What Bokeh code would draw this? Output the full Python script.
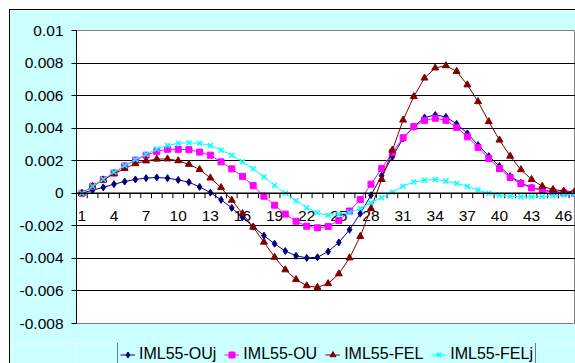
from bokeh.plotting import figure
from bokeh.models import ColumnDataSource, FixedTicker, CustomJSTickFormatter, Span, Range1d, Spacer
from bokeh.layouts import column, row
from bokeh.core.properties import value
from bokeh.embed import file_html
from bokeh.resources import INLINE

# ---- data ----
categories = list(range(1, 48))
x_tick_labels = ["1", "4", "7", "10", "13", "16", "19", "22", "25", "28", "31", "34", "37", "40", "43", "46"]
y_ticks = [-0.008, -0.006, -0.004, -0.002, 0.0, 0.002, 0.004, 0.006, 0.008, 0.01]

series_names = ["IML55-OUj", "IML55-OU", "IML55-FEL", "IML55-FELj"]

ouj = [0, 0.00019, 0.00036, 0.00056, 0.00072, 0.00085, 0.00093, 0.00097, 0.00093, 0.00082,
       0.00068, 0.00039, 0.00004, -0.00040, -0.00090, -0.00147, -0.00205, -0.00260, -0.00310, -0.00355,
       -0.00384, -0.00397, -0.00393, -0.00358, -0.00302, -0.00224, -0.00125, -0.00012, 0.00108, 0.00224,
       0.00337, 0.00409, 0.00465, 0.00481, 0.00469, 0.00426, 0.00368, 0.00296, 0.00228, 0.00167,
       0.00105, 0.00064, 0.00035, 0.00019, 0.00010, 0.00006, 0.00004]

ou = [0, 0.00043, 0.00085, 0.00125, 0.00168, 0.00204, 0.00234, 0.00257, 0.00270, 0.00270,
      0.00268, 0.00253, 0.00234, 0.00193, 0.00150, 0.00104, 0.00047, -0.00018, -0.00073, -0.00128,
      -0.00172, -0.00202, -0.00212, -0.00204, -0.00167, -0.00109, -0.00039, 0.00056, 0.00152, 0.00251,
      0.00341, 0.00409, 0.00448, 0.00461, 0.00448, 0.00405, 0.00347, 0.00282, 0.00214, 0.00152,
      0.00097, 0.00060, 0.00033, 0.00019, 0.00008, 0.00002, 0.0]

fel = [0, 0.00042, 0.00082, 0.00120, 0.00152, 0.00182, 0.00199, 0.00210, 0.00211, 0.00200,
       0.00178, 0.00146, 0.00094, 0.00035, -0.00043, -0.00125, -0.00208, -0.00300, -0.00393, -0.00470,
       -0.00530, -0.00568, -0.00578, -0.00555, -0.00495, -0.00397, -0.00265, -0.00094, 0.00085, 0.00265,
       0.00450, 0.00594, 0.00708, 0.00770, 0.00784, 0.00749, 0.00666, 0.00563, 0.00440, 0.00327,
       0.00228, 0.00145, 0.00085, 0.00043, 0.00023, 0.00014, 0.00009]

felj = [0, 0.00043, 0.00086, 0.00130, 0.00170, 0.00208, 0.00240, 0.00272, 0.00294, 0.00307,
        0.00310, 0.00307, 0.00293, 0.00265, 0.00234, 0.00193, 0.00150, 0.00100, 0.00049, 0.0,
        -0.00046, -0.00089, -0.00120, -0.00135, -0.00130, -0.00118, -0.00094, -0.00058, -0.00027, 0.00007,
        0.00043, 0.00070, 0.00080, 0.00085, 0.00075, 0.00062, 0.00041, 0.00020, 0.0, -0.00012,
        -0.00018, -0.00022, -0.00022, -0.00020, -0.00015, -0.00010, -0.00006]

series_keys = ["ouj", "ou", "fel", "felj"]
colors = ["#000080", "#FF00FF", "#800000", "#00FFFF"]
markers = ["diamond", "square", "triangle", "x"]
marker_sizes = [7, 6, 7, 7]

FONT = "Liberation Sans"
CYAN_BG = "#CCFFFF"

src = ColumnDataSource(dict(x=categories, ouj=ouj, ou=ou, fel=fel, felj=felj))

p = figure(width=565, height=333, output_backend="svg", toolbar_location=None,
           x_range=Range1d(0.5, 47.1), y_range=Range1d(-0.008, 0.01),
           x_axis_location=None,
           min_border_left=66, min_border_top=20, min_border_bottom=20, min_border_right=0,
           background_fill_color="white", border_fill_color=CYAN_BG,
           outline_line_color="#808080")

# y axis
yax = p.yaxis[0]
yax.ticker = FixedTicker(ticks=y_ticks)
yax.formatter = CustomJSTickFormatter(code="""
    let s = tick.toFixed(3);
    if (s.indexOf('.') >= 0) { s = s.replace(/0+$/, '').replace(/\\.$/, ''); }
    if (s === '-0') { s = '0'; }
    return s;
""")
yax.major_tick_in = 0
yax.major_tick_out = 5
yax.minor_tick_in = 0
yax.minor_tick_out = 0
yax.axis_line_color = "black"
yax.major_tick_line_color = "black"
yax.major_label_standoff = 8
yax.major_label_text_font = FONT
yax.major_label_text_font_size = "15.5px"
yax.major_label_text_color = "black"

p.xgrid.visible = False
p.ygrid.ticker = FixedTicker(ticks=y_ticks)
p.ygrid.grid_line_color = "black"
p.ygrid.grid_line_width = 1

# category axis crossing at zero
p.add_layout(Span(location=0, dimension="width", line_color="black", line_width=1.5))
tick_len = 0.018 / 293 * 5
bounds = [c - 0.5 for c in categories] + [categories[-1] + 0.5]
p.segment(x0=bounds, x1=bounds, y0=[0] * len(bounds), y1=[-tick_len] * len(bounds),
          line_color="black", line_width=1)
p.text(x=[int(s) for s in x_tick_labels], y=[0] * len(x_tick_labels), text=x_tick_labels,
       y_offset=23, text_align="center", text_baseline="middle",
       text_font=value(FONT), text_font_size="15.5px", text_color="black")

# series
for key, col, mk, ms in zip(series_keys, colors, markers, marker_sizes):
    p.line("x", key, source=src, line_color=col, line_width=1)
    p.scatter("x", key, source=src, marker=mk, size=ms, line_color=col, fill_color=col,
              line_width=1.5 if mk == "x" else 1)

# legend strip: separate figure (same data, scales that keep the marks out of view)
lp = figure(width=565, height=20, output_backend="svg", toolbar_location=None,
            x_range=Range1d(0.5, 47.1), y_range=Range1d(1, 2),
            x_axis_location=None, y_axis_location=None,
            min_border_left=66, min_border_right=0, min_border_top=0, min_border_bottom=0,
            background_fill_color=CYAN_BG, border_fill_color=CYAN_BG, outline_line_color=None)
lp.xgrid.visible = False
lp.ygrid.visible = False
for key, name, col, mk, ms in zip(series_keys, series_names, colors, markers, marker_sizes):
    lp.line("x", key, source=src, line_color=col, line_width=1, legend_label=name)
    lp.scatter("x", key, source=src, marker=mk, size=ms, line_color=col, fill_color=col,
               line_width=1.5 if mk == "x" else 1, legend_label=name)

lg = lp.legend[0]
lg.orientation = "horizontal"
lg.location = (41, -3)
lg.border_line_color = "black"
lg.border_line_width = 1
lg.background_fill_color = CYAN_BG
lg.background_fill_alpha = 1
lg.label_text_font = FONT
lg.label_text_font_size = "16px"
lg.label_text_color = "black"
lg.glyph_width = 15
lg.glyph_height = 15
lg.label_height = 15
lg.label_standoff = 4
lg.spacing = 8
lg.padding = 2
lg.margin = 0

WHITE = {"background-color": "white"}
chart = column(p, lp, spacing=0,
               styles={"border-left": "1px solid black", "border-top": "1px solid black"})
layout = column(Spacer(width=575, height=9, styles=WHITE),
                row(Spacer(width=9, height=354, styles=WHITE), chart, spacing=0),
                spacing=0, styles=WHITE)

open("out.html", "w").write(file_html(layout, INLINE))
